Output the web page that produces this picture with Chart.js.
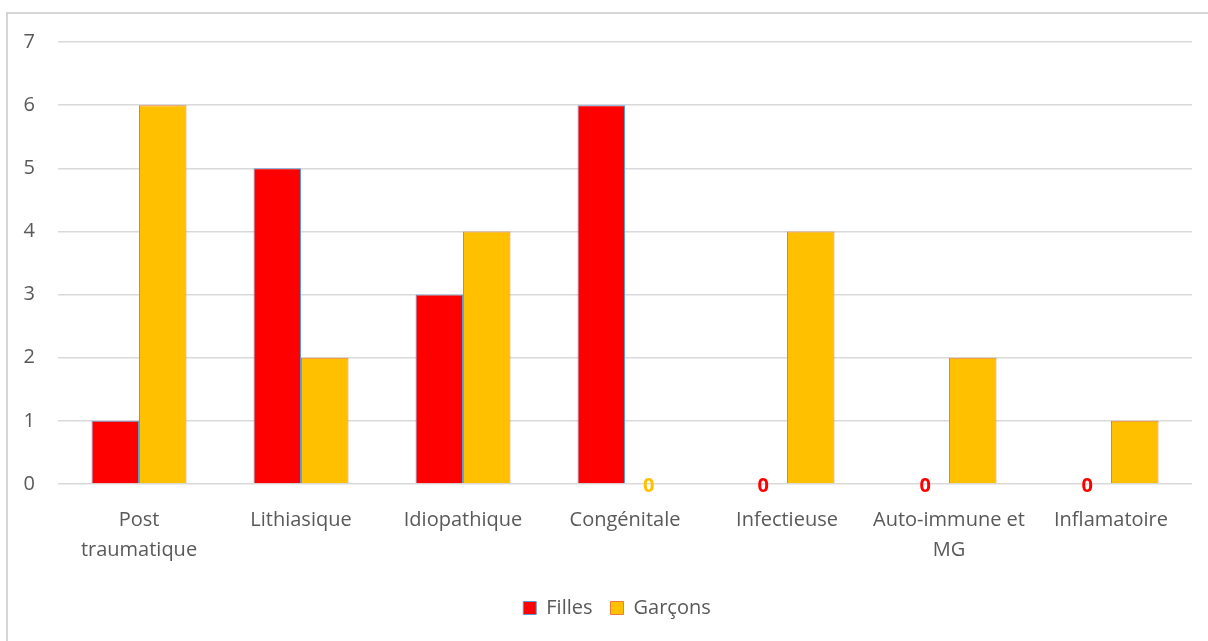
<!DOCTYPE html>
<html>
<head>
<meta charset="utf-8">
<script src="https://cdn.jsdelivr.net/npm/chart.js@4/dist/chart.umd.min.js"></script>
<style>
  html, body { margin: 0; padding: 0; background: #fff; overflow: hidden; }
  #wrap { position: relative; width: 1208px; height: 641px; }
</style>
</head>
<body>
<div id="wrap"><canvas id="etiologyChart"></canvas></div>
<script>
// causes, grouped by sex
const categories = [['Post', 'traumatique'], 'Lithiasique', 'Idiopathique', 'Congénitale', 'Infectieuse', ['Auto-immune et', 'MG'], 'Inflamatoire'];
const filles = [1, 5, 3, 6, 0, 0, 0];
const garcons = [6, 2, 4, 0, 4, 2, 1];
const yTicks = [0, 1, 2, 3, 4, 5, 6, 7];

const textGray = '#595959';
const gridGray = '#d9d9d9';

// outer frame (only top and left edges are visible)
const framePlugin = {
    id: 'frame',
    beforeDraw(chart) {
        const ctx = chart.ctx;
        ctx.save();
        ctx.strokeStyle = '#d6d6d6';
        ctx.lineWidth = 2;
        ctx.beginPath();
        ctx.moveTo(7, 641);
        ctx.lineTo(7, 13);
        ctx.lineTo(1208, 13);
        ctx.stroke();
        ctx.restore();
    }
};

// nudge the legend a bit to the right
const legendShift = {
    id: 'legendShift',
    afterLayout(chart) {
        if (chart.legend) {
            chart.legend.left += 21;
            chart.legend.right += 21;
        }
    }
};

// "0" printed on the baseline for empty bars
const zeroLabels = {
    id: 'zeroLabels',
    afterDatasetsDraw(chart) {
        const ctx = chart.ctx;
        ctx.save();
        ctx.font = 'bold 20px "Open Sans"';
        ctx.textAlign = 'center';
        ctx.textBaseline = 'middle';
        chart.data.datasets.forEach((ds, i) => {
            const meta = chart.getDatasetMeta(i);
            meta.data.forEach((bar, j) => {
                if (ds.data[j] === 0) {
                    ctx.fillStyle = ds.backgroundColor;
                    ctx.fillText('0', bar.x, bar.base + 2);
                }
            });
        });
        ctx.restore();
    }
};

Chart.defaults.font.family = '"Open Sans", sans-serif';
Chart.defaults.font.size = 20;
Chart.defaults.color = textGray;

const ctx = document.getElementById('etiologyChart').getContext('2d');
new Chart(ctx, {
    type: 'bar',
    data: {
        labels: categories,
        datasets: [{
            label: 'Filles',
            data: filles,
            backgroundColor: '#FF0000',
            borderColor: '#5B9BD5',
            borderWidth: 1
        }, {
            label: 'Garçons',
            data: garcons,
            backgroundColor: '#FFC000',
            borderColor: '#ED7D31',
            borderWidth: 1
        }]
    },
    options: {
        responsive: true,
        maintainAspectRatio: false,
        animation: false,
        layout: { padding: { top: 42, right: 16, left: 0, bottom: 13 } },
        datasets: {
            bar: { categoryPercentage: 0.586, barPercentage: 1.0 }
        },
        scales: {
            x: {
                grid: { display: false, drawTicks: false },
                border: { display: false },
                ticks: { padding: 21, maxRotation: 0, font: { size: 20, lineHeight: 1.5 } },
                afterFit(scale) { scale.height = 96; }
            },
            y: {
                min: 0,
                max: 7,
                afterBuildTicks(scale) { scale.ticks = yTicks.map(v => ({ value: v })); },
                grid: { color: gridGray, lineWidth: 1.5, drawTicks: false },
                border: { display: false },
                ticks: { padding: 23, font: { size: 20 } },
                afterFit(scale) { scale.width = 58; }
            }
        },
        plugins: {
            legend: {
                position: 'bottom',
                labels: {
                    boxWidth: 13,
                    boxHeight: 13,
                    padding: 18,
                    font: { size: 20 },
                    color: textGray
                }
            },
            tooltip: { enabled: false }
        }
    },
    plugins: [framePlugin, legendShift, zeroLabels]
});
</script>
</body>
</html>
